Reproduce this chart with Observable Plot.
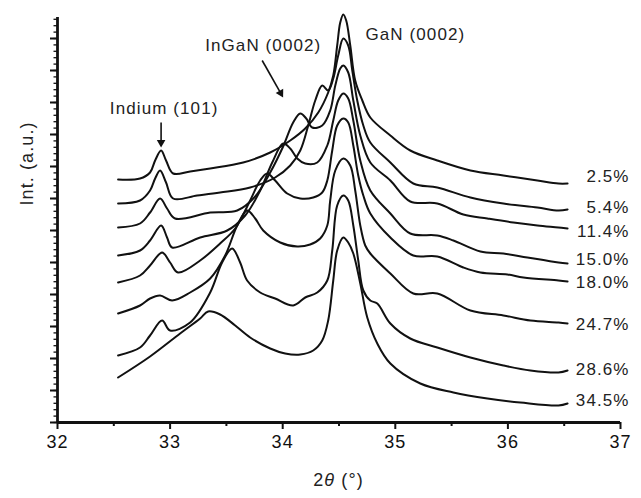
<!DOCTYPE html>
<html><head><meta charset="utf-8">
<script src="https://cdn.jsdelivr.net/npm/d3@7"></script>
<script src="https://cdn.jsdelivr.net/npm/@observablehq/plot@0.6"></script>
<style>
html,body{margin:0;padding:0;background:#fff;}
#chart svg{display:block;}
.xrd text{letter-spacing:1.1px;}
</style></head><body><div id="chart"></div>
<script>
// ---- data (2θ in degrees, intensity in arbitrary units) ----
const xMajor = [32, 33, 34, 35, 36, 37];
const xMinor = [32.5, 33.5, 34.5, 35.5, 36.5];
const yMajor = [0, 32, 64, 96, 128, 160, 192, 224, 256, 288, 320, 352, 384];
const yMinor = d3.range(0, 405, 6.4);

const sampleNames = ["2.5%", "5.4%", "11.4%", "15.0%", "18.0%", "24.7%", "28.6%", "34.5%"];
const labelIntensity = [246, 215, 191, 163, 140, 98, 53, 22];

const s2_5 = [[32.538,243],[32.733,244],[32.822,250],[32.867,262],[32.92,272],[32.964,262],[33.027,249],[33.178,251],[33.356,254],[33.649,260],[33.889,270],[34.067,282],[34.2,294],[34.316,310],[34.404,330],[34.449,347],[34.484,377],[34.511,400],[34.538,408],[34.564,402],[34.6,377],[34.644,342],[34.707,322],[34.778,305],[34.956,287],[35.133,272],[35.373,262],[35.667,252],[35.96,247],[36.262,242],[36.449,239],[36.53,239]];
const s5_4 = [[32.538,219],[32.733,222],[32.822,232],[32.867,244],[32.911,252],[32.964,240],[33.027,224],[33.24,227],[33.444,230],[33.711,235],[33.933,245],[34.067,257],[34.156,272],[34.227,297],[34.289,322],[34.351,337],[34.404,332],[34.449,344],[34.493,367],[34.538,384],[34.582,377],[34.618,352],[34.662,322],[34.716,297],[34.778,280],[34.956,260],[35.16,239],[35.373,235],[35.667,225],[35.96,219],[36.262,215],[36.449,212],[36.53,213]];
const s11_4 = [[32.538,195],[32.733,199],[32.822,210],[32.911,224],[32.973,214],[33.044,204],[33.356,210],[33.596,212],[33.756,226],[33.889,250],[34.004,276],[34.093,300],[34.156,309],[34.209,304],[34.262,295],[34.351,297],[34.422,312],[34.467,337],[34.511,354],[34.538,357],[34.582,350],[34.627,322],[34.689,287],[34.778,260],[34.956,242],[35.133,221],[35.373,219],[35.604,208],[35.818,204],[36.049,200],[36.262,197],[36.449,195],[36.53,194]];
const s15_0 = [[32.538,167],[32.733,172],[32.822,182],[32.92,197],[32.973,185],[33.018,175],[33.267,185],[33.507,192],[33.667,207],[33.8,232],[33.907,260],[34.004,279],[34.067,274],[34.129,264],[34.2,259],[34.307,260],[34.396,277],[34.449,302],[34.493,322],[34.538,329],[34.582,324],[34.627,302],[34.689,262],[34.778,232],[34.956,209],[35.133,189],[35.373,187],[35.516,182],[35.756,171],[35.96,169],[36.173,165],[36.449,160],[36.53,159]];
const s18_0 = [[32.538,140],[32.733,147],[32.822,157],[32.929,170],[33.0,160],[33.071,150],[33.267,162],[33.444,179],[33.578,194],[33.711,222],[33.8,242],[33.862,249],[33.933,242],[34.04,229],[34.156,224],[34.271,225],[34.351,230],[34.396,242],[34.44,272],[34.484,297],[34.538,304],[34.582,300],[34.627,277],[34.671,247],[34.716,227],[34.778,209],[34.956,185],[35.16,167],[35.373,166],[35.604,155],[35.756,150],[35.996,148],[36.138,145],[36.449,142],[36.53,141]];
const s24_7 = [[32.538,109],[32.733,117],[32.822,124],[32.911,127],[33.018,122],[33.178,130],[33.356,144],[33.489,167],[33.596,197],[33.684,212],[33.756,204],[33.827,192],[33.978,180],[34.129,176],[34.244,178],[34.333,184],[34.396,197],[34.422,222],[34.467,252],[34.538,264],[34.6,257],[34.644,232],[34.689,197],[34.733,177],[34.778,169],[34.956,149],[35.16,129],[35.373,129],[35.667,112],[35.96,107],[36.2,102],[36.449,100],[36.53,99]];
const s28_6 = [[32.538,67],[32.733,75],[32.822,87],[32.929,102],[33.0,92],[33.178,100],[33.356,130],[33.462,160],[33.551,174],[33.622,160],[33.684,142],[33.8,130],[33.933,124],[34.093,117],[34.2,125],[34.307,130],[34.396,142],[34.44,172],[34.484,217],[34.538,227],[34.582,222],[34.627,197],[34.671,162],[34.716,132],[34.778,122],[34.84,119],[34.956,99],[35.133,84],[35.373,75],[35.667,65],[35.96,57],[36.2,52],[36.449,50],[36.53,52]];
const s34_5 = [[32.538,45],[32.822,66],[33.089,89],[33.267,104],[33.338,111],[33.444,108],[33.578,97],[33.711,85],[33.889,74],[34.022,69],[34.156,68],[34.271,72],[34.351,82],[34.404,102],[34.449,142],[34.484,172],[34.538,185],[34.582,180],[34.627,169],[34.689,139],[34.751,105],[34.84,79],[34.956,59],[35.222,39],[35.516,30],[35.818,24],[36.111,20],[36.449,17],[36.53,19]];

const annotations = [
  {text: "Indium (101)", x: 32.947, y: 314},
  {text: "InGaN (0002)", x: 33.827, y: 377},
  {text: "GaN (0002)", x: 35.178, y: 388}
];
const arrows = [
  {x1: 32.92, y1: 300, x2: 32.92, y2: 280, angle: 180},
  {x1: 33.818, y1: 362, x2: 33.982, y2: 329.4, angle: 150.4}
];

// ---- build ----
const curves = [s2_5, s5_4, s11_4, s15_0, s18_0, s24_7, s28_6, s34_5];
const rows = curves.flatMap((pts, i) => pts.map(([x, y]) => ({x, y, s: sampleNames[i]})));
const ends = curves.map((pts, i) => ({x: pts[pts.length - 1][0], y: labelIntensity[i], label: sampleNames[i]}));

const ink = "#111";
const chart = Plot.plot({
  width: 641, height: 498,
  marginLeft: 57, marginRight: 21, marginTop: 17, marginBottom: 76,
  className: "xrd",
  style: {fontFamily: "'Liberation Sans', Arial, sans-serif", fontSize: "17px", color: ink, background: "#fff"},
  x: {domain: [32, 37]},
  y: {domain: [0, 405]},
  marks: [
    Plot.axisX(xMajor, {tickSize: 7, tickPadding: 6, strokeWidth: 2, fontSize: 18, tickFormat: d => String(d), label: null}),
    Plot.axisX(xMinor, {tickSize: 4, strokeWidth: 2, tickFormat: () => "", label: null}),
    Plot.axisY(yMajor, {tickSize: 7, strokeWidth: 2, tickFormat: () => "", label: null}),
    Plot.axisY(yMinor, {tickSize: 3.5, strokeWidth: 1.3, tickFormat: () => "", label: null}),
    Plot.ruleY([0], {strokeWidth: 2.8, stroke: ink}),
    Plot.ruleX([32], {strokeWidth: 2.8, stroke: ink}),
    Plot.line(rows, {x: "x", y: "y", z: "s", curve: "catmull-rom", stroke: ink, strokeWidth: 2}),
    Plot.text(ends, {x: "x", y: "y", text: "label", dx: 62, textAnchor: "end", fontSize: 17, fill: "#222"}),
    Plot.text(annotations, {x: "x", y: "y", text: "text", fontSize: 17, fill: "#222"}),
    Plot.link(arrows, {x1: "x1", y1: "y1", x2: "x2", y2: "y2", stroke: ink, strokeWidth: 1.6}),
    Plot.dot(arrows, {x: "x2", y: "y2", symbol: "triangle", r: 3.2, fill: ink, stroke: null, rotate: "angle"}),
    Plot.text(["Int. (a.u.)"], {frameAnchor: "left", dx: -30, dy: -14.5, rotate: -90, fontSize: 18, fill: "#222"})
  ]
});

document.getElementById("chart").appendChild(chart);
const svg = d3.select(chart);
const xs = chart.scale("x");
const lab = svg.append("text")
  .attr("x", xs.apply(34.5)).attr("y", 486)
  .attr("text-anchor", "middle").attr("font-size", 18).attr("fill", "#222");
lab.append("tspan").text("2");
lab.append("tspan").attr("font-style", "italic").text("θ");
lab.append("tspan").text(" (°)");
</script>
</body></html>
